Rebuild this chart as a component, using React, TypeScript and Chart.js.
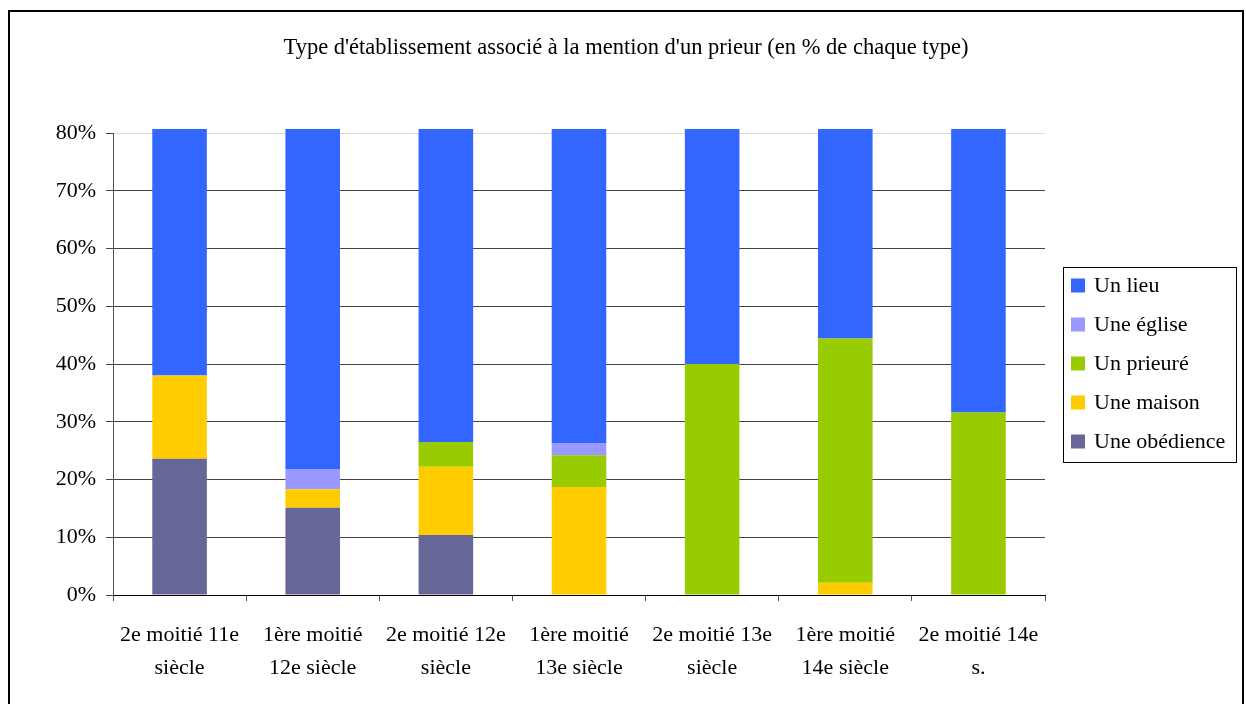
import React, { useEffect, useRef } from 'react';
import { Chart, registerables } from 'chart.js';

Chart.register(...registerables);

const categories: string[][] = [
  ['2e moitié 11e', 'siècle'],
  ['1ère moitié', '12e siècle'],
  ['2e moitié 12e', 'siècle'],
  ['1ère moitié', '13e siècle'],
  ['2e moitié 13e', 'siècle'],
  ['1ère moitié', '14e siècle'],
  ['2e moitié 14e', 's.'],
];

const obedience = [23.6, 15.1, 10.4, 0, 0, 0, 0];
const maison = [14.4, 3.2, 11.8, 18.7, 0, 2.1, 0];
const prieure = [0, 0, 4.3, 5.5, 40.0, 42.3, 31.6];
const eglise = [0, 3.5, 0, 2.1, 0, 0, 0];
const lieu = [62.0, 78.2, 73.5, 73.7, 60.0, 55.6, 68.4];

const yMax = 80;
const yStep = 10;
const titleText = "Type d'établissement associé à la mention d'un prieur (en % de chaque type)";

const FONT = "'Liberation Serif', 'Times New Roman', serif";
const CANVAS_W = 1232;
const CANVAS_H = 700;

const legendPlugin = {
  id: 'boxedLegend',
  afterDraw(chart: any) {
    const { ctx, chartArea } = chart;
    const left = chartArea.right + 18;
    const w = 173;
    const h = 195;
    const top = (chartArea.top + chartArea.bottom) / 2 - h / 2;
    ctx.save();
    ctx.fillStyle = '#ffffff';
    ctx.fillRect(left, top, w, h);
    ctx.strokeStyle = '#000000';
    ctx.lineWidth = 1;
    ctx.strokeRect(Math.round(left) + 0.5, Math.round(top) + 0.5, w, h);
    const ds = chart.data.datasets.slice().reverse();
    ctx.font = `22px ${FONT}`;
    ctx.textBaseline = 'middle';
    ctx.textAlign = 'left';
    ds.forEach((d: any, i: number) => {
      const cy = top + 19 + i * 39;
      ctx.fillStyle = d.backgroundColor;
      ctx.fillRect(left + 8, cy - 7, 14, 14);
      ctx.fillStyle = '#000000';
      ctx.fillText(d.label, left + 31, cy + 1);
    });
    ctx.restore();
  },
};

const barClip = { left: 0, top: 4, right: 0, bottom: 0 };

export default function App() {
  const ref = useRef<HTMLCanvasElement | null>(null);

  useEffect(() => {
    if (!ref.current) return;
    const chart = new Chart(ref.current, {
      type: 'bar',
      data: {
        labels: categories,
        datasets: [
          { label: 'Une obédience', data: obedience, backgroundColor: '#666699', clip: barClip },
          { label: 'Une maison', data: maison, backgroundColor: '#FFCC00', clip: barClip },
          { label: 'Un prieuré', data: prieure, backgroundColor: '#99CC00', clip: barClip },
          { label: 'Une église', data: eglise, backgroundColor: '#9999FF', clip: barClip },
          { label: 'Un lieu', data: lieu, backgroundColor: '#3366FF', clip: barClip },
        ],
      },
      options: {
        responsive: false,
        animation: false,
        devicePixelRatio: 1,
        datasets: {
          bar: {
            barPercentage: 0.41,
            categoryPercentage: 1,
            borderWidth: 0,
          },
        },
        layout: { padding: 0 },
        plugins: {
          legend: { display: false },
          tooltip: { enabled: false },
          title: {
            display: true,
            text: titleText,
            color: '#000000',
            font: { family: FONT, size: 22.5, weight: 'normal', lineHeight: 1.2 },
            padding: { top: 22.5, bottom: 71.5 },
          },
        },
        scales: {
          x: {
            stacked: true,
            grid: {
              display: true,
              drawOnChartArea: false,
              drawTicks: true,
              tickLength: 6,
              color: '#555555',
              offset: true,
            },
            border: { display: true, color: '#000000', width: 1 },
            ticks: {
              color: '#000000',
              font: { family: FONT, size: 22, lineHeight: 1.5 },
              padding: 18,
              maxRotation: 0,
              autoSkip: false,
            },
            afterFit: (s: any) => {
              s.height = CANVAS_H - 583;
            },
          },
          y: {
            stacked: true,
            min: 0,
            max: yMax,
            ticks: {
              stepSize: yStep,
              color: '#000000',
              font: { family: FONT, size: 22 },
              padding: 10,
              callback: (v: any) => `${v}%`,
            },
            grid: {
              color: (c: any) => (c.tick && c.tick.value === yMax ? '#dddddd' : '#444444'),
              tickColor: '#444444',
              tickLength: 7,
              lineWidth: 1,
            },
            border: { display: true, color: '#555555', width: 1 },
            afterFit: (s: any) => {
              s.width = 103;
            },
          },
          yRight: {
            type: 'linear',
            position: 'right',
            display: true,
            grid: { display: false, drawTicks: false },
            border: { display: false },
            ticks: { display: false },
            afterFit: (s: any) => {
              s.width = CANVAS_W - 1035;
            },
          },
        },
      } as any,
      plugins: [legendPlugin],
    });
    return () => chart.destroy();
  }, []);

  return (
    <div
      style={{
        position: 'fixed',
        left: 8,
        top: 10,
        width: 1236,
        height: 720,
        border: '2px solid #000',
        boxSizing: 'border-box',
        background: '#fff',
      }}
    >
      <canvas ref={ref} width={CANVAS_W} height={CANVAS_H} style={{ display: 'block' }} />
    </div>
  );
}
